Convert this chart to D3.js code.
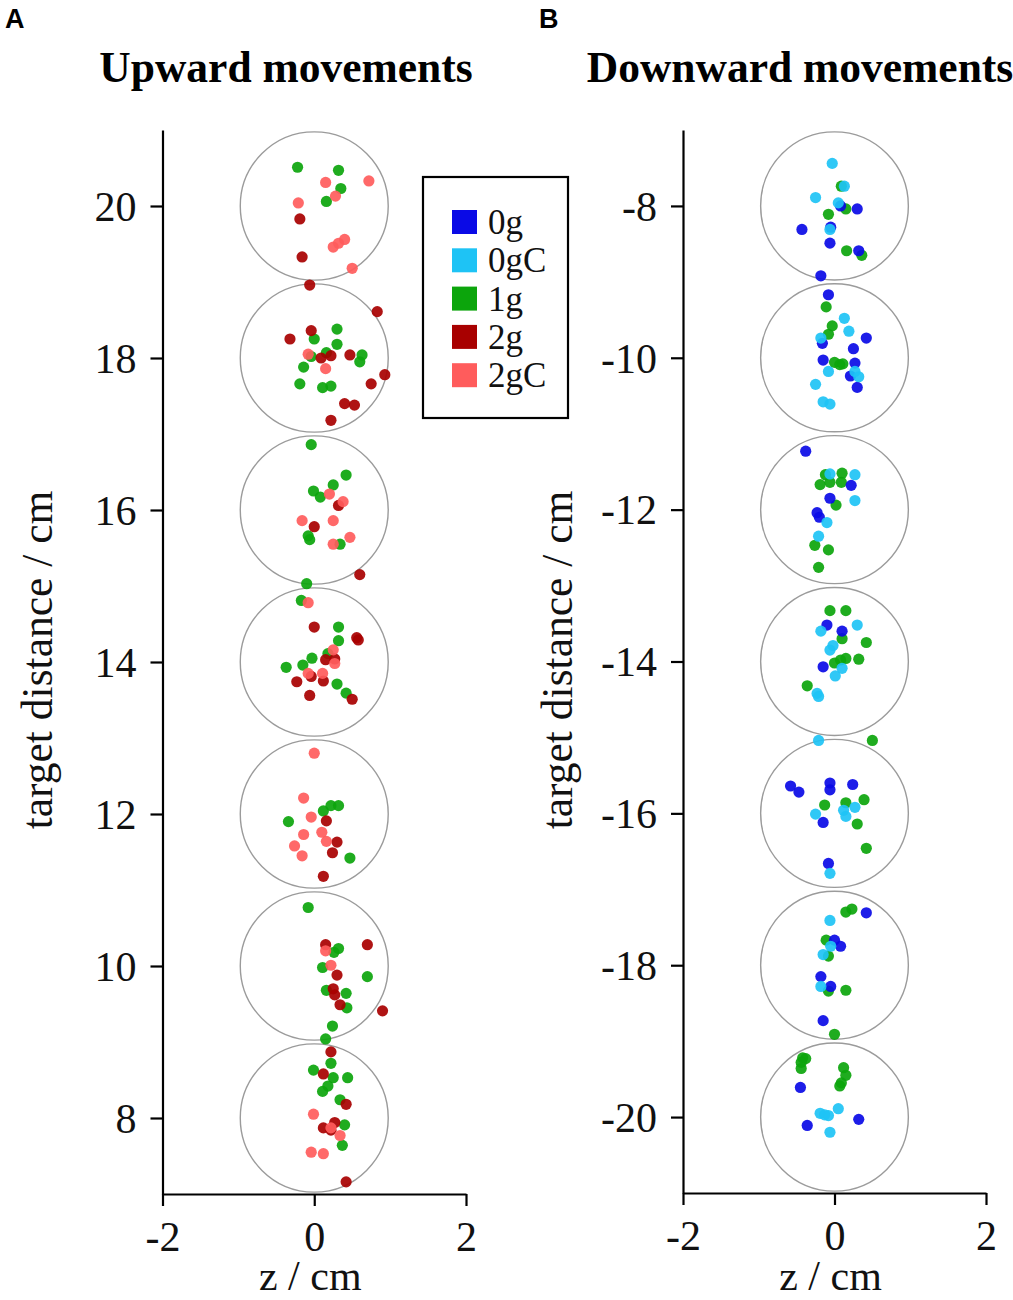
<!DOCTYPE html>
<html><head><meta charset="utf-8">
<script src="https://cdn.jsdelivr.net/npm/d3@7"></script>
<style>body{margin:0;background:#fff}svg{display:block}</style>
</head><body>
<svg id="chart" width="1013" height="1300"></svg>
<script>
// ---------- data (z / cm, target distance / cm) ----------
const groups = ["0g", "0gC", "1g", "2g", "2gC"];
const groupColors = ["#0a0ae6", "#1ec3f5", "#0ca50c", "#a80000", "#ff5c5c"];

const upTargets = [8, 10, 12, 14, 16, 18, 20];
const downTargets = [-8, -10, -12, -14, -16, -18, -20];
const xTicks = [-2, 0, 2];
const upYTicks = [8, 10, 12, 14, 16, 18, 20];
const downYTicks = [-20, -18, -16, -14, -12, -10, -8];
const targetRadius = 0.975;

const up1g = [
 [-0.22,20.51],[0.32,20.47],[0.35,20.23],[0.16,20.06],
 [0.30,18.38],[0.00,18.25],[0.30,18.18],[-0.04,18.02],[0.16,18.07],[0.63,18.04],[0.60,17.95],[-0.14,17.88],[-0.19,17.66],[0.11,17.61],[0.22,17.63],
 [-0.04,16.86],[0.42,16.46],[0.25,16.33],[-0.01,16.25],[0.08,16.17],[-0.08,15.66],[-0.06,15.61],[0.34,15.55],
 [-0.10,15.03],[-0.17,14.81],[0.32,14.46],[0.32,14.28],[0.18,14.11],[-0.03,14.05],[-0.15,13.96],[-0.37,13.93],[0.30,13.71],[0.42,13.59],
 [0.12,12.04],[0.22,12.11],[0.32,12.11],[-0.34,11.90],[0.47,11.42],
 [-0.08,10.77],[0.32,10.23],[0.26,10.18],[0.11,9.98],[0.70,9.86],[0.16,9.68],[0.42,9.64],[0.43,9.45],[0.24,9.21],[0.15,9.04],
 [0.22,8.72],[-0.01,8.63],[0.25,8.53],[0.44,8.53],[0.18,8.42],[0.11,8.35],[0.34,8.24],[0.40,7.91],[0.37,7.64]
];
const up2g = [
 [-0.19,19.83],[-0.16,19.33],[-0.06,18.96],
 [0.83,18.61],[-0.32,18.25],[-0.04,18.36],[0.09,18.00],[0.22,18.03],[0.47,18.04],[0.75,17.66],[0.93,17.78],[0.40,17.40],[0.53,17.38],[0.22,17.18],
 [0.32,16.06],[0.00,15.78],[0.60,15.15],
 [0.00,14.46],[0.56,14.32],[0.58,14.29],[0.15,14.03],[0.27,14.04],[-0.23,13.74],[0.12,13.75],[-0.04,13.81],[0.50,13.51],[-0.06,13.56],
 [0.16,11.91],[0.30,11.63],[0.24,11.49],[0.12,11.18],
 [0.15,10.28],[0.70,10.28],[0.30,9.88],[0.25,9.70],[0.27,9.62],[0.34,9.49],[0.90,9.41],
 [0.22,8.87],[0.12,8.58],[0.42,8.18],[0.27,7.94],[0.12,7.87],[0.22,7.84],[0.42,7.16]
];
const up2gC = [
 [0.15,20.31],[0.72,20.33],[0.28,20.13],[-0.21,20.04],[0.25,19.46],[0.32,19.51],[0.40,19.56],[0.50,19.18],
 [-0.08,18.05],[0.15,17.86],
 [0.20,16.21],[0.38,16.11],[-0.16,15.86],[0.25,15.86],[0.25,15.55],[0.47,15.64],
 [-0.08,14.78],[0.25,14.16],[0.27,13.98],[-0.08,13.85],[0.11,13.85],
 [0.00,12.80],[-0.14,12.21],[-0.04,11.96],[-0.14,11.73],[0.10,11.76],[0.16,11.64],[-0.26,11.58],[-0.16,11.45],
 [0.15,10.20],[0.22,10.01],
 [-0.01,8.05],[0.22,7.87],[0.34,7.77],[-0.04,7.55],[0.12,7.53]
];

const down0g = [
 [0.08,-8.00],[0.30,-8.04],[-0.43,-8.31],[-0.05,-8.28],[-0.06,-8.49],[0.32,-8.59],[-0.18,-8.92],
 [-0.08,-9.17],[-0.16,-9.81],[0.42,-9.74],[0.25,-9.88],[-0.15,-10.03],[0.27,-10.07],[0.21,-10.24],[0.30,-10.39],
 [-0.38,-11.23],[0.22,-11.68],[-0.06,-11.85],[-0.23,-12.04],[-0.20,-12.10],
 [-0.10,-13.52],[0.10,-13.60],[-0.15,-14.07],
 [-0.58,-15.64],[-0.47,-15.72],[-0.06,-15.60],[-0.06,-15.69],[0.24,-15.62],[-0.15,-16.12],[-0.08,-16.66],
 [0.42,-17.31],[0.00,-17.67],[0.08,-17.75],[-0.18,-18.15],[-0.05,-18.28],[-0.15,-18.73],
 [-0.45,-19.61],[-0.36,-20.11],[0.32,-20.03]
];
const down0gC = [
 [-0.03,-7.44],[0.13,-7.74],[-0.25,-7.89],[0.05,-7.96],[-0.06,-8.31],
 [0.13,-9.48],[0.19,-9.65],[-0.18,-9.74],[-0.08,-10.18],[0.27,-10.18],[0.32,-10.25],[-0.25,-10.35],[-0.15,-10.58],[-0.06,-10.61],
 [-0.06,-11.53],[0.27,-11.54],[0.27,-11.88],[-0.10,-12.17],[-0.21,-12.35],
 [0.30,-13.52],[-0.18,-13.60],[-0.02,-13.79],[-0.06,-13.85],[0.10,-14.09],[0.01,-14.19],[-0.23,-14.42],[-0.21,-14.46],
 [-0.21,-15.04],[0.27,-15.92],[0.12,-15.96],[0.15,-16.04],[-0.25,-16.01],[-0.06,-16.79],
 [-0.06,-17.41],[-0.05,-17.75],[-0.15,-17.86],[-0.18,-18.28],
 [-0.19,-19.95],[-0.08,-19.98],[0.05,-19.89],[-0.13,-19.97],[-0.06,-20.20]
];
const down1g = [
 [0.09,-7.74],[0.15,-8.04],[-0.08,-8.11],[0.16,-8.59],[0.36,-8.65],
 [-0.11,-9.33],[-0.03,-9.58],[-0.08,-9.69],[0.00,-10.06],[0.07,-10.09],[0.11,-10.08],
 [-0.12,-11.54],[0.10,-11.52],[-0.19,-11.67],[-0.06,-11.64],[0.09,-11.64],[0.02,-11.94],[-0.26,-12.47],[-0.08,-12.53],[-0.21,-12.76],
 [-0.06,-13.33],[0.15,-13.33],[0.10,-13.70],[0.42,-13.75],[0.15,-13.96],[0.08,-13.98],[0.00,-14.02],[0.32,-13.97],[-0.36,-14.32],
 [0.50,-15.04],[-0.13,-15.89],[0.15,-15.86],[0.39,-15.82],[0.30,-16.14],[0.42,-16.46],
 [0.15,-17.30],[0.23,-17.26],[-0.11,-17.67],[-0.08,-17.88],[-0.08,-18.34],[0.15,-18.33],[0.00,-18.91],
 [-0.42,-19.22],[-0.38,-19.23],[-0.44,-19.28],[-0.44,-19.36],[0.12,-19.35],[0.15,-19.45],[0.09,-19.55],[0.07,-19.59]
];

// ---------- drawing ----------
const svg = d3.select("#chart");
const serif = "'Liberation Serif','Times New Roman',serif";
const color = d3.scaleOrdinal().domain(groups).range(groupColors);

function panel(opts) {
  const x = d3.scaleLinear().domain([-2, 2]).range(opts.xr);
  const y = d3.scaleLinear().domain(opts.yd).range(opts.yr);
  const g = svg.append("g");

  // target circles
  g.selectAll("ellipse.t").data(opts.targets).join("ellipse")
    .attr("cx", x(0)).attr("cy", d => y(d))
    .attr("rx", x(targetRadius) - x(0))
    .attr("ry", y(opts.yd[0]) - y(opts.yd[0] + targetRadius))
    .attr("fill", "none").attr("stroke", "#9b9b9b").attr("stroke-width", 1.4);

  // points
  opts.series.forEach(s => {
    g.append("g").selectAll("circle").data(s.data).join("circle")
      .attr("cx", d => x(d[0])).attr("cy", d => y(d[1]))
      .attr("r", 5.6).attr("fill", color(s.name)).attr("fill-opacity", 0.92);
  });

  // axes
  const fmt = d => String(d).replace("\u2212", "-");
  const xAxis = g.append("g").attr("transform", `translate(0,${opts.yr[0]})`)
    .call(d3.axisBottom(x).tickValues(xTicks).tickSize(12).tickSizeOuter(0).tickFormat(fmt));
  const yAxis = g.append("g").attr("transform", `translate(${opts.xr[0]},0)`)
    .call(d3.axisLeft(y).tickValues(opts.yTicks).tickSize(12).tickSizeOuter(0).tickFormat(fmt));
  [xAxis, yAxis].forEach(a => {
    a.select(".domain").attr("stroke", "#000").attr("stroke-width", 2.2);
    a.selectAll(".tick line").attr("stroke", "#000").attr("stroke-width", 2.2);
    a.selectAll(".tick text").attr("font-family", serif).attr("font-size", 42).attr("fill", "#111");
  });
  xAxis.selectAll(".tick text").attr("y", 0).attr("dy", 0).attr("transform", "translate(0,57)");
  yAxis.selectAll(".tick text").attr("x", -26).attr("dy", "0.34em");

  // labels
  svg.append("text").attr("x", d3.mean(opts.xr) - 4).attr("y", 1290)
    .attr("text-anchor", "middle").attr("font-family", serif).attr("font-size", 42).attr("fill", "#111")
    .text("z / cm");
  svg.append("text").attr("transform", `translate(${opts.ylabX},660) rotate(-90)`)
    .attr("text-anchor", "middle").attr("font-family", serif).attr("font-size", 43.5).attr("fill", "#111")
    .text("target distance / cm");
  svg.append("text").attr("x", opts.titleX).attr("y", 82)
    .attr("text-anchor", "middle").attr("font-family", serif).attr("font-weight", "bold")
    .attr("font-size", 43.5).attr("fill", "#000").text(opts.title);
  svg.append("text").attr("x", opts.letterX).attr("y", 28)
    .attr("font-family", "'Liberation Sans',Arial,sans-serif").attr("font-weight", "bold")
    .attr("font-size", 27).attr("fill", "#000").text(opts.letter);
}

panel({
  xr: [162.5, 466], yr: [1194, 130], yd: [7, 21],
  targets: upTargets, yTicks: upYTicks,
  series: [{name: "1g", data: up1g}, {name: "2g", data: up2g}, {name: "2gC", data: up2gC}],
  ylabX: 52, title: "Upward movements", titleX: 286, letter: "A", letterX: 5
});
panel({
  xr: [683, 986], yr: [1193, 130], yd: [-21, -7],
  targets: downTargets, yTicks: downYTicks,
  series: [{name: "1g", data: down1g}, {name: "0g", data: down0g}, {name: "0gC", data: down0gC}],
  ylabX: 572, title: "Downward movements", titleX: 800, letter: "B", letterX: 539
});

// legend
const leg = svg.append("g").attr("transform", "translate(423,177)");
leg.append("rect").attr("width", 145).attr("height", 241)
  .attr("fill", "#fff").attr("stroke", "#000").attr("stroke-width", 2.2);
const item = leg.selectAll("g.item").data(groups).join("g")
  .attr("transform", (d, i) => `translate(29,${33 + i * 38.3})`);
item.append("rect").attr("width", 25).attr("height", 24).attr("fill", d => color(d));
item.append("text").attr("x", 36).attr("y", 24)
  .attr("font-family", serif).attr("font-size", 35).attr("fill", "#111").text(d => d);
</script>
</body></html>
